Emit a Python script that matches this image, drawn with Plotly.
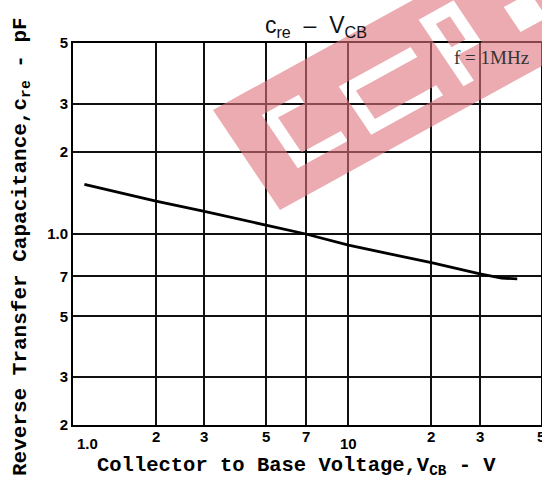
import math
import plotly.graph_objects as go

# ---- data ----
vcb = [1.1, 2, 3, 5, 7, 10, 20, 30, 36, 41]
cre = [1.52, 1.32, 1.21, 1.08, 1.0, 0.91, 0.785, 0.715, 0.69, 0.685]

x_tick_vals = [1, 2, 3, 5, 7, 10, 20, 30, 50]
x_tick_text = ["1.0", "2", "3", "5", "7", "10", "2", "3", "5"]
y_tick_vals = [0.2, 0.3, 0.5, 0.7, 1, 2, 3, 5]
y_tick_text = ["2", "3", "5", "7", "1.0", "2", "3", "5"]

W, H = 542, 484
L, R, T, B = 73, 1, 43, 59
PW, PH = W - L - R, H - T - B


def px(x):
    return (x - L) / PW


def py(y):
    return (H - B - y) / PH


fig = go.Figure()
fig.add_trace(go.Scatter(x=vcb, y=cre, mode="lines",
                         line=dict(color="black", width=2.8),
                         showlegend=False, hoverinfo="skip"))

mono = "Liberation Mono"
tickfont = dict(family="Liberation Sans", size=15, color="black", weight="bold")
fig.update_layout(
    width=W, height=H,
    margin=dict(l=L, r=R, t=T, b=B, autoexpand=False),
    paper_bgcolor="white", plot_bgcolor="white",
    xaxis=dict(type="log", range=[0, math.log10(50)], automargin=False,
               tickvals=x_tick_vals, showticklabels=False,
               showgrid=True, gridcolor="#111", gridwidth=1.6,
               showline=True, linecolor="black", linewidth=2, mirror=True,
               zeroline=False, ticks=""),
    yaxis=dict(type="log", range=[math.log10(0.2), math.log10(5)], automargin=False,
               tickvals=y_tick_vals, ticktext=y_tick_text, tickfont=tickfont,
               showgrid=True, gridcolor="#111", gridwidth=1.6,
               showline=True, linecolor="black", linewidth=2, mirror=True,
               zeroline=False, ticks=""),
)

# x tick labels placed through the x axis scale
for v, t in zip(x_tick_vals, x_tick_text):
    xs, ys = 0, -1
    if t == "1.0":
        xs, ys = 14, -8
    elif v == 10:
        ys = -8
    fig.add_annotation(x=math.log10(v), xref="x", y=0, yref="paper",
                       xanchor="center", yanchor="top", text=t, showarrow=False,
                       xshift=xs, yshift=ys, font=tickfont)


def note(x, y, text, font, angle=0):
    fig.add_annotation(x=px(x), y=py(y), xref="paper", yref="paper",
                       xanchor="center", yanchor="middle", text=text,
                       showarrow=False, textangle=angle, font=font)


# titles
note(316, 27, "c<sub>re</sub>  –  V<sub>CB</sub>",
     dict(family="Liberation Sans", size=23, color="#111"))
note(296, 466, "Collector to Base Voltage,V<sub>CB</sub> - V",
     dict(family=mono, size=20.5, color="black", weight="bold"))
note(21, 247, "Reverse Transfer Capacitance,c<sub>re</sub> - pF",
     dict(family=mono, size=21, color="black", weight="bold"), angle=-90)
note(491, 58, "f = 1MHz", dict(family="Liberation Serif", size=19, color="#333"))

# ---- pink watermark band (decorative) ----
O = (213, 110)
U = (0.876, -0.482)
V = (0.482, 0.876)


def band_pt(s, t):
    return (O[0] + s * U[0] + t * V[0], O[1] + s * U[1] + t * V[1])


def rect_path(s1, s2, t1, t2):
    pts = [band_pt(s1 + 0.088 * t1, t1), band_pt(s2 + 0.088 * t1, t1),
           band_pt(s2 + 0.088 * t2, t2), band_pt(s1 + 0.088 * t2, t2)]
    return "M" + " L".join(f"{px(a):.4f},{py(b):.4f}" for a, b in pts) + " Z"


path = rect_path(0, 460, 0, 120)
holes = [
    (38, 50, 28, 92), (50, 95, 80, 92), (50, 80, 28, 38),
    (118, 200, 40, 52), (118, 200, 86, 98), (118, 130, 52, 86),
    (222, 262, 20, 32), (222, 234, 32, 100), (250, 262, 32, 60), (234, 262, 60, 70),
    (300, 330, 50, 80),
]
for h in holes:
    path += " " + rect_path(*h)

fig.add_shape(type="path", path=path, xref="paper", yref="paper",
              fillcolor="rgb(222,115,125)", opacity=0.6, line=dict(width=0),
              layer="above", fillrule="evenodd")

fig.write_html("out.html", config={"displayModeBar": False},
               post_script="document.body.style.margin='0';document.body.style.overflow='hidden';")
